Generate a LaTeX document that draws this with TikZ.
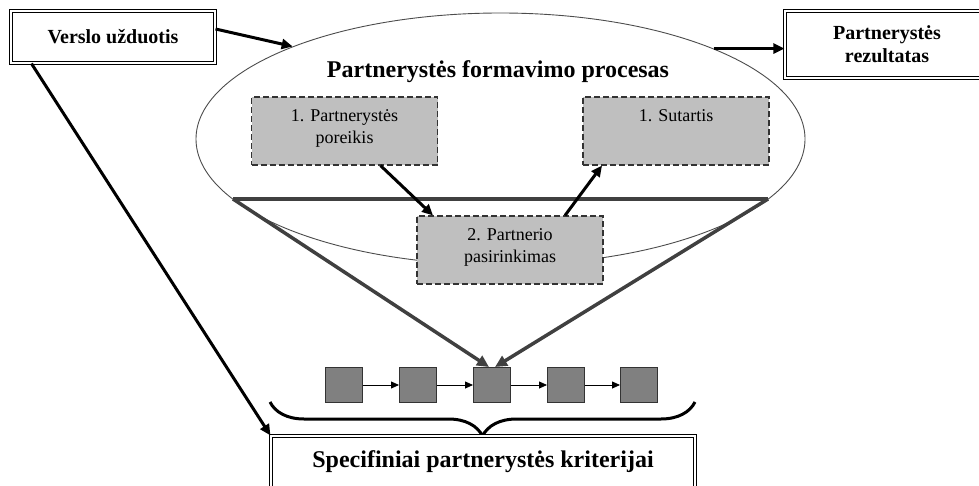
\documentclass[tikz,border=0pt]{standalone}
\usepackage{fontspec}
\setmainfont{Liberation Serif}
\usetikzlibrary{arrows.meta,shapes.geometric,decorations.pathreplacing,calc}
% top-aligned text inside the grey stage boxes
\newcommand\stagetext[1]{\parbox[c][58pt][t]{176pt}{\centering\vspace*{8pt}#1}}
\begin{document}
\begin{tikzpicture}[x=1pt,y=-1pt,
  framebox/.style={draw=black, line width=1.3pt, double=white, double distance=1.6pt,
    fill=white, inner sep=0pt, align=center, font=\bfseries\fontsize{20}{23}\selectfont},
  stage/.style={draw=black!80, fill=black!25, dash pattern=on 6pt off 3pt, line width=1.1pt,
    inner xsep=5pt, inner ysep=5pt, font=\fontsize{18}{21.6}\selectfont},
  thickarr/.style={line width=3pt, -{Triangle[length=11pt,width=10pt]}},
  funnel/.style={draw=black!75, line width=3.5pt},
  cell/.style={draw=black!80, fill=black!50, line width=1pt, minimum width=37pt,
    minimum height=35pt, inner sep=0pt},
  link/.style={line width=0.8pt, -{Triangle[length=8pt,width=7pt]}}
]
\path[use as bounding box] (0,0) rectangle (979,486);
\clip (0,0) rectangle (979,486);

% the partnership forming process
\node[draw=black!70, line width=0.9pt, ellipse, minimum width=609pt, minimum height=252pt,
  inner sep=0pt] (proc) at (500.5,139) {};
\node[font=\bfseries\fontsize{24}{28}\selectfont] (title) at (498,72) {Partnerystės formavimo procesas};

% chain of criteria
\node[cell] (c1) at (344,385) {};
\node[cell] (c2) at (418,385) {};
\node[cell] (c3) at (492,385) {};
\node[cell] (c4) at (566,385) {};
\node[cell] (c5) at (639,385) {};
\draw[link] (c1) -- (c2);
\draw[link] (c2) -- (c3);
\draw[link] (c3) -- (c4);
\draw[link] (c4) -- (c5);

% funnel from the process into the chain
\coordinate (fl) at (233,199);
\coordinate (fr) at (768,199);
\draw[funnel] (fl) -- (fr);
\draw[funnel, -{Triangle[length=12pt,width=11pt]}] (fl) -- ([xshift=-3pt]c3.north);
\draw[funnel, -{Triangle[length=12pt,width=11pt]}] (fr) -- ([xshift=3pt]c3.north);

% stages
\node[stage] (s1) at (344.5,131) {\stagetext{1. Partnerystės\\poreikis}};
\node[stage] (s3) at (676,131) {\stagetext{1. Sutartis}};
\node[stage] (s2) at (510,250) {\stagetext{2. Partnerio\\pasirinkimas}};
\draw[thickarr] ([xshift=36pt]s1.south) -- ([xshift=-77pt]s2.north);
\draw[thickarr] ([xshift=55pt]s2.north) -- ([xshift=-74pt]s3.south);

% brace over the criteria
\coordinate (bl) at (270,402);
\coordinate (br) at (695,402);
\draw[line width=3pt, decorate, decoration={brace, mirror, amplitude=34pt}] (bl) -- (br);

% framed boxes
\node[framebox, minimum width=203.8pt, minimum height=51.8pt] (verslo) at (113,37) {Verslo užduotis};
\node[framebox, minimum width=203.8pt, minimum height=66.8pt] (rez) at (887,44.5) {Partnerystės\\rezultatas};
\node[framebox, minimum width=423.8pt, minimum height=51.8pt, font=\bfseries\fontsize{24}{28}\selectfont]
  (crit) at (483,462) {Specifiniai partnerystės kriterijai};

% connectors
\draw[thickarr] ($(verslo.east)+(0,-8)$) -- (proc.156);
\draw[thickarr] (proc.23) -- (proc.23 -| rez.west);
\draw[thickarr] ([xshift=21pt]verslo.south west) -- (crit.north west);
\end{tikzpicture}
\end{document}
